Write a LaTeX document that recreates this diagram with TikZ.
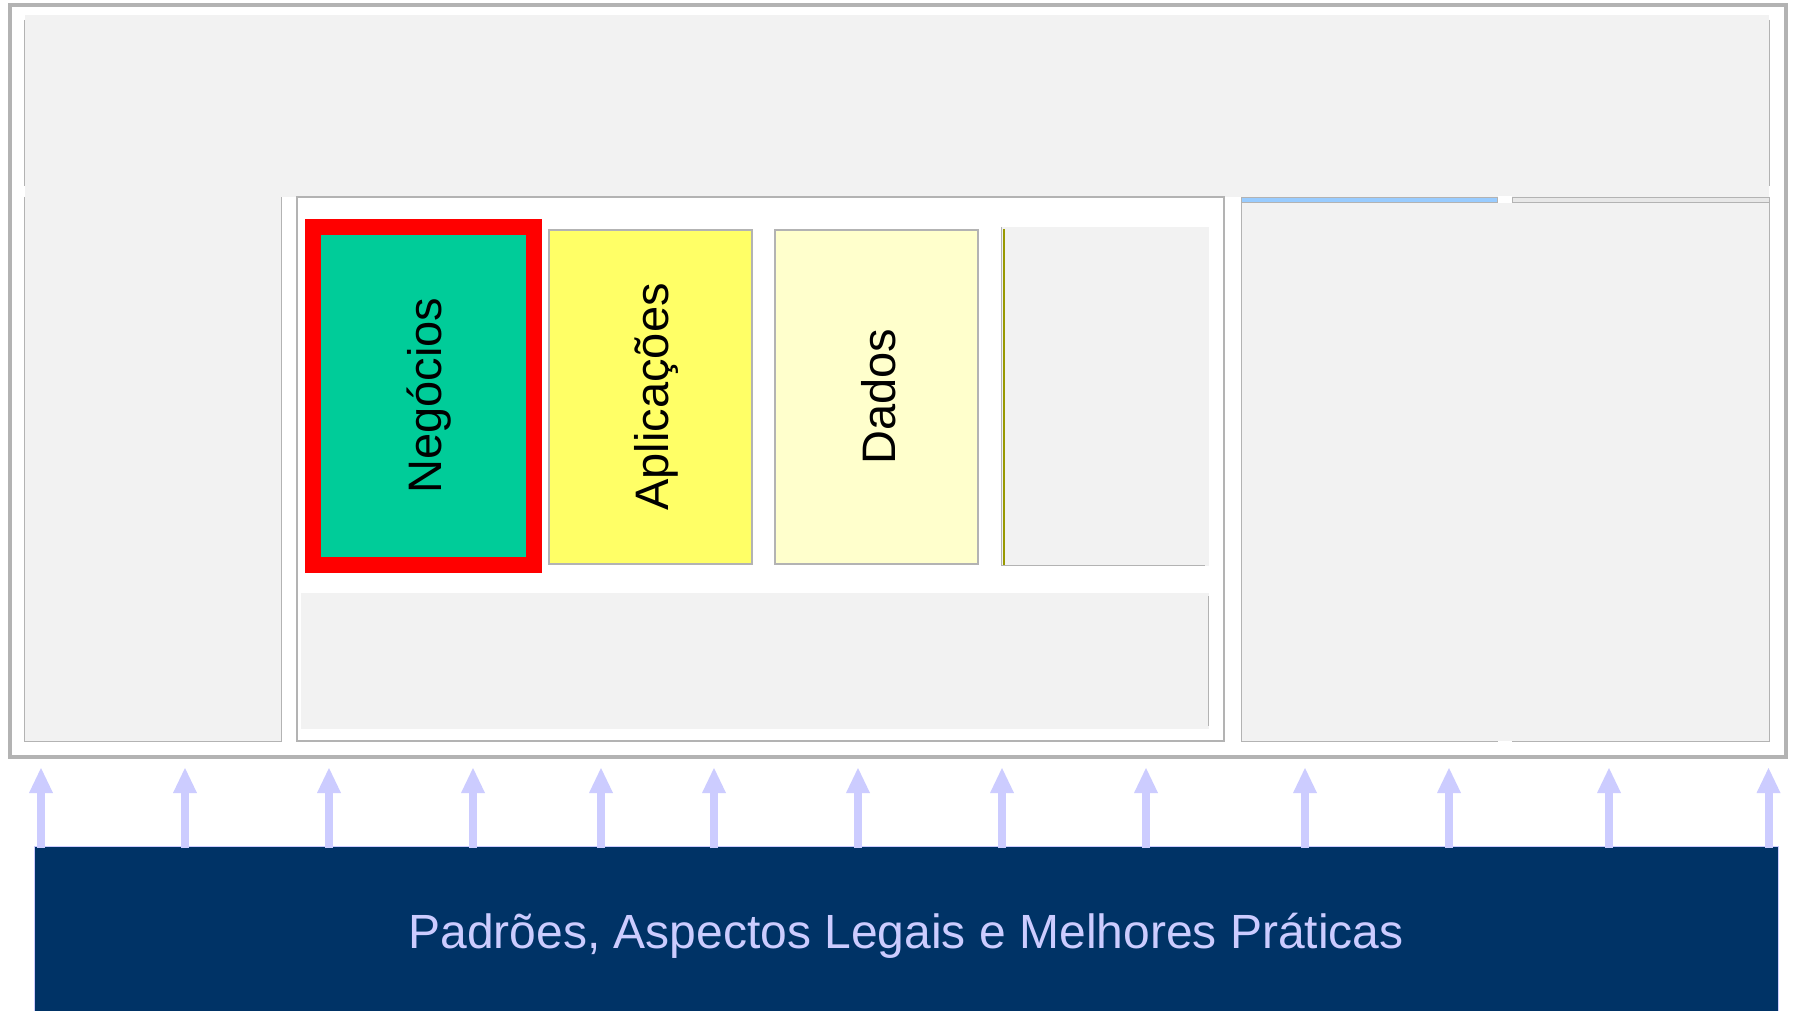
\documentclass[tikz,border=0pt]{standalone}
\usepackage{fontspec}
\setmainfont{Liberation Sans}
\usetikzlibrary{arrows.meta,calc}
\definecolor{framegray}{HTML}{B3B3B3}
\definecolor{panel}{HTML}{F2F2F2}
\definecolor{stripgray}{HTML}{E8E8E8}
\definecolor{bizgreen}{HTML}{00CC99}
\definecolor{appyellow}{HTML}{FFFF66}
\definecolor{datayellow}{HTML}{FFFFCC}
\definecolor{stripblue}{HTML}{99CCFF}
\definecolor{navy}{HTML}{003366}
\definecolor{lavender}{HTML}{CCCCFF}
\definecolor{olivebar}{HTML}{999900}

\tikzset{
	layer/.style={draw=framegray, line width=2pt, inner sep=0pt, rotate=90,
		text height=37pt, text depth=0pt, font=\fontsize{47}{56}\selectfont},
	basebar/.style={draw=lavender, fill=navy, line width=1pt, inner sep=0pt,
		text=lavender, text height=35pt, text depth=0pt, font=\fontsize{48}{58}\selectfont},
	uparrow/.style={draw=lavender, line width=8pt,
		-{Triangle[width=24pt,length=25pt,line width=0pt]}},
}

\begin{document}
\begin{tikzpicture}[x=1pt,y=-1pt]
		%%%%% START %%%%%
		
		\useasboundingbox (0,0) rectangle (1793,1011);
		\clip (0,0) rectangle (1793,1011);
		\fill[white] (0,0) rectangle (1793,1011);
		
		\draw[framegray, line width=4pt] (9.5,5) rectangle (1785.5,757);
		
		% top band and left column
		\fill[panel] (25,15) rectangle (1769,197);
		\draw[framegray, line width=1pt] (24.5,20) -- (24.5,186);
		\draw[framegray, line width=1pt] (1769.5,20) -- (1769.5,186);
		\fill[panel] (25,197) rectangle (281,741);
		\draw[framegray, line width=1pt] (24.5,197) -- (24.5,741.5) -- (281.5,741.5) -- (281.5,197);
		
		% middle frame
		\draw[framegray, line width=2pt, fill=white] (297,197.5) rectangle (1224,741);
		\fill[panel] (301,593) rectangle (1208.5,729);
		\draw[framegray, line width=0.6pt] (1208.5,596) -- (1208.5,726);
		
		\fill[panel] (1001,227) rectangle (1209,566);
		\draw[framegray, line width=1pt] (1001.5,227) -- (1001.5,565.5) -- (1205,565.5);
		\draw[olivebar, line width=2pt] (1003.5,229) -- (1003.5,565);
		
		% right columns
		\fill[panel] (1241,197) rectangle (1769,741);
		\draw[framegray, line width=1pt] (1241,197) -- (1241,741) -- (1498,741);
		\draw[framegray, line width=1pt] (1512,741) -- (1769.5,741) -- (1769.5,197);
		\fill[white] (1497.5,196) rectangle (1512,203.5);
		\draw[framegray, line width=1pt, fill=stripblue] (1241.5,197.5) rectangle (1497,203);
		\draw[framegray, line width=1pt, fill=stripgray] (1512.5,197.5) rectangle (1769,203);
		
		% layers
		\node[layer, draw=red, line width=16pt, fill=bizgreen, minimum width=337.7pt, minimum height=220.7pt] (neg) at (423.35,395.85) {Negócios};
		\node[layer, fill=appyellow, minimum width=334.3pt, minimum height=203pt] (app) at (650.2,396.85) {Aplicações};
		\node[layer, fill=datayellow, minimum width=334.3pt, minimum height=203pt] (dat) at (876.5,396.85) {Dados};
		
		% base bar and arrows
		\node[basebar, minimum width=1744pt, minimum height=169pt] (base) at (906,930.5) {Padrões, Aspectos Legais e Melhores Práticas};
		\foreach \x [count=\i] in {41,185,329,473,601,714,858,1002,1146,1305,1449,1609,1768.5} {
			\coordinate (tip\i) at (\x,768);
			\draw[uparrow] ($(tip\i |- base.north)+(0,2.5)$) -- (tip\i);
		}
		
		%%%%% END %%%%%
\end{tikzpicture}
\end{document}
